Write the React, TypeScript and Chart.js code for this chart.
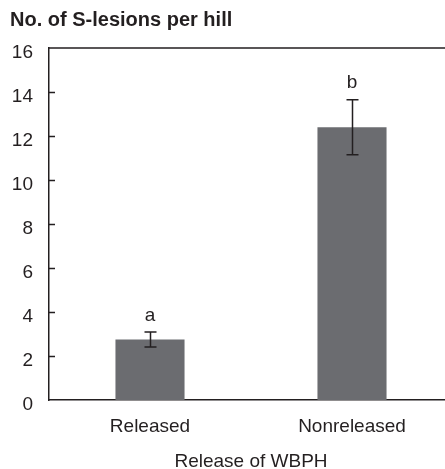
import React, { useEffect, useRef } from 'react';
import { Chart, registerables } from 'chart.js';

Chart.register(...registerables);

const categories = ['Released', 'Nonreleased'];
const lesionMeans = [2.75, 12.4];
const lesionErrors = [0.34, 1.25];
const groupLetters = ['a', 'b'];
const yMin = 0;
const yMax = 16;
const yStep = 2;
const chartTitle = 'No. of S-lesions per hill';
const xAxisTitle = 'Release of WBPH';

const FONT = "'Liberation Sans', Arial, Helvetica, sans-serif";
const INK = '#231f20';
const BAR = '#6b6c70';

const annotPlugin = {
  id: 'annot',
  afterDatasetsDraw(chart: any) {
    const { ctx, chartArea, scales } = chart;
    const y = scales.y;
    const meta = chart.getDatasetMeta(0);
    ctx.save();
    ctx.strokeStyle = INK;
    ctx.lineWidth = 1.5;
    ctx.beginPath();
    ctx.moveTo(chartArea.left, chartArea.top);
    ctx.lineTo(chartArea.right, chartArea.top);
    y.ticks.forEach((t: any) => {
      if (t.value === yMin || t.value === yMax) return;
      const py = Math.round(y.getPixelForValue(t.value)) + 0.5;
      ctx.moveTo(chartArea.left, py);
      ctx.lineTo(chartArea.left + 6, py);
    });
    ctx.stroke();

    ctx.fillStyle = INK;
    ctx.font = `19px ${FONT}`;
    ctx.textAlign = 'center';
    ctx.textBaseline = 'bottom';
    meta.data.forEach((bar: any, i: number) => {
      const x = Math.round(bar.x) + 0.5;
      const hi = y.getPixelForValue(lesionMeans[i] + lesionErrors[i]);
      const lo = y.getPixelForValue(lesionMeans[i] - lesionErrors[i]);
      ctx.beginPath();
      ctx.lineWidth = 1.5;
      ctx.moveTo(x, hi);
      ctx.lineTo(x, lo);
      ctx.moveTo(x - 6, hi);
      ctx.lineTo(x + 6, hi);
      ctx.moveTo(x - 6, lo);
      ctx.lineTo(x + 6, lo);
      ctx.stroke();
      ctx.fillText(groupLetters[i], bar.x, hi - 7);
    });
    ctx.restore();
  },
};

export default function App() {
  const ref = useRef<HTMLCanvasElement | null>(null);
  useEffect(() => {
    if (!ref.current) return;
    const chart = new Chart(ref.current, {
      type: 'bar',
      data: {
        labels: categories,
        datasets: [
          {
            data: lesionMeans,
            backgroundColor: BAR,
            borderWidth: 0,
            barPercentage: 0.342,
            categoryPercentage: 1,
          },
        ],
      },
      plugins: [annotPlugin],
      options: {
        animation: false,
        responsive: false,
        layout: { padding: { left: 10, right: 0, top: 0, bottom: 0 } },
        plugins: {
          legend: { display: false },
          tooltip: { enabled: false },
          title: {
            display: true,
            text: chartTitle,
            align: 'start',
            color: INK,
            font: { family: FONT, size: 20, weight: 'bold', lineHeight: 1.2 },
            padding: { top: 8, bottom: 16 },
          },
        },
        scales: {
          x: {
            grid: { display: false, drawTicks: false },
            border: { display: true, color: INK, width: 1.5 },
            ticks: { color: INK, font: { family: FONT, size: 19 }, padding: 15 },
            title: {
              display: true,
              text: xAxisTitle,
              color: INK,
              font: { family: FONT, size: 19, lineHeight: 1 },
              padding: { top: 0, bottom: -2 },
            },
            afterFit: (s: any) => {
              s.height = 69;
            },
          },
          y: {
            min: yMin,
            max: yMax,
            grid: { display: false, drawTicks: false },
            border: { display: true, color: INK, width: 1.5 },
            ticks: {
              stepSize: yStep,
              color: INK,
              font: { family: FONT, size: 19 },
              padding: 16,
              labelOffset: 5,
            },
            afterFit: (s: any) => {
              s.width = 39;
            },
          },
        },
      },
    } as any);
    return () => chart.destroy();
  }, []);
  return (
    <div
      style={{
        position: 'fixed',
        left: 0,
        top: 0,
        width: 445,
        height: 469,
        overflow: 'hidden',
        background: '#fff',
      }}
    >
      <canvas ref={ref} width={453} height={469} style={{ display: 'block' }} />
    </div>
  );
}
